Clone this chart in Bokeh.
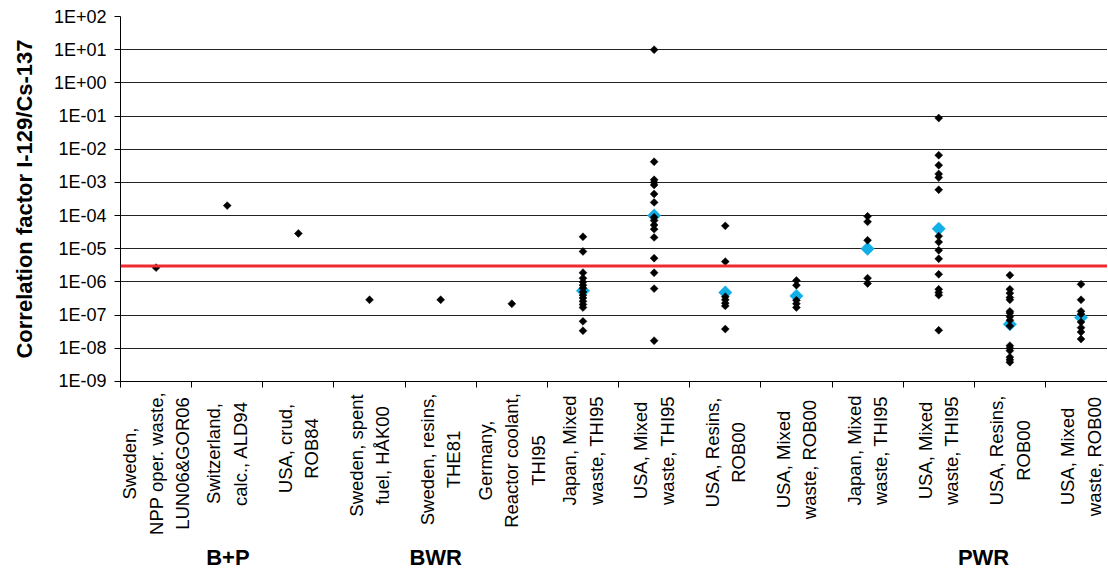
import math
from bokeh.plotting import figure
from bokeh.layouts import column
from bokeh.models import (FixedTicker, CustomJSTickFormatter, Span, Range1d)
from bokeh.core.properties import value
from bokeh.embed import file_html
from bokeh.resources import INLINE

# ---------------- data ----------------
categories = [
    "Sweden,\nNPP oper. waste,\nLUN06&GOR06",
    "Switzerland,\ncalc., ALD94",
    "USA, crud,\nROB84",
    "Sweden, spent\nfuel, HÅK00",
    "Sweden, resins,\nTHE81",
    "Germany,\nReactor coolant,\nTHI95",
    "Japan, Mixed\nwaste, THI95",
    "USA, Mixed\nwaste, THI95",
    "USA, Resins,\nROB00",
    "USA, Mixed\nwaste, ROB00",
    "Japan, Mixed\nwaste, THI95",
    "USA, Mixed\nwaste, THI95",
    "USA, Resins,\nROB00",
    "USA, Mixed\nwaste, ROB00",
]

groups = ["B+P", "BWR", "PWR"]
group_positions = [1.51, 4.43, 12.13]   # category-axis position of each group label

black_values = [
    [2.7e-6],
    [2.0e-4],
    [2.9e-5],
    [2.9e-7],
    [2.9e-7],
    [2.2e-7],
    [2.3e-5, 8.3e-6, 1.9e-6, 1.3e-6, 1.0e-6, 8e-7, 6.5e-7, 5e-7, 4e-7, 3.3e-7,
     2.6e-7, 2.1e-7, 1.7e-7, 6.5e-8, 3.4e-8],
    [10, 4.2e-3, 1.2e-3, 1.0e-3, 8.4e-4, 4.5e-4, 2.5e-4, 8.9e-5, 7.1e-5, 5.2e-5,
     3.9e-5, 2.2e-5, 5.2e-6, 1.9e-6, 6.3e-7, 1.7e-8],
    [4.9e-5, 4.1e-6, 3.6e-7, 2.9e-7, 2.3e-7, 1.9e-7, 3.8e-8],
    [1.1e-6, 8e-7, 2.8e-7, 2.2e-7, 1.7e-7],
    [9.5e-5, 6.5e-5, 1.8e-5, 1.3e-6, 9e-7],
    [8.7e-2, 6.6e-3, 3.3e-3, 1.8e-3, 1.4e-3, 6e-4, 2.4e-5, 1.6e-5, 9e-6, 5e-6,
     1.7e-6, 6e-7, 4.8e-7, 4e-7, 3.5e-8],
    [1.6e-6, 6e-7, 4.6e-7, 3.4e-7, 2.9e-7, 1.3e-7, 1.15e-7, 9e-8, 7e-8, 4.7e-8,
     1.2e-8, 1e-8, 8.5e-9, 5.4e-9, 4.5e-9, 3.8e-9],
    [8.5e-7, 2.9e-7, 1.3e-7, 1.07e-7, 6.2e-8, 4.2e-8, 3.1e-8, 1.9e-8],
]

blue_values = [None, None, None, None, None, None,
               5.4e-7, 1.0e-4, 4.8e-7, 3.8e-7, 1.0e-5, 4.0e-5, 5.3e-8, 8.5e-8]

limit_value = 3e-6
y_ticks = [1e-9, 1e-8, 1e-7, 1e-6, 1e-5, 1e-4, 1e-3, 1e-2, 1e-1, 1e0, 1e1, 1e2]
y_title = "Correlation factor I-129/Cs-137"

# layout helpers (pixel centres of the label blocks inside the label strip)
label_centers = [73, 63, 58, 65, 69, 70, 60, 60, 62, 69, 60, 60, 60, 66]
group_label_y = 167

# ---------------- build sources ----------------
bx, by = [], []
for i, vals in enumerate(black_values):
    for v in vals:
        bx.append(i + 0.5)
        by.append(v)
ux, uy = [], []
for i, v in enumerate(blue_values):
    if v is not None:
        ux.append(i + 0.5)
        uy.append(v)

FONT = "Liberation Sans"
n = len(categories)
W = 1107
LEFT = 120
CAT_PX = 71.15

p = figure(width=W, height=390, output_backend="svg", toolbar_location=None,
           y_axis_type="log",
           x_range=Range1d(0, (W - LEFT) / CAT_PX), y_range=Range1d(1e-9, 1e2),
           min_border_left=LEFT, min_border_right=0, min_border_top=16,
           min_border_bottom=9)
p.outline_line_color = None
p.background_fill_color = "white"
p.border_fill_color = "white"

# grid
p.xgrid.grid_line_color = None
p.ygrid.grid_line_color = "#222222"
p.ygrid.grid_line_width = 1
p.ygrid.ticker = FixedTicker(ticks=y_ticks)

# y axis
ya = p.yaxis[0]
ya.ticker = FixedTicker(ticks=y_ticks)
ya.formatter = CustomJSTickFormatter(code="""
const e = Math.round(Math.log10(tick));
const s = String(Math.abs(e)).padStart(2, '0');
return '1E' + (e < 0 ? '-' : '+') + s;
""")
ya.axis_line_color = "black"
ya.major_tick_line_color = "black"
ya.major_tick_out = 6
ya.major_tick_in = 0
ya.minor_tick_line_color = None
ya.major_label_text_font = FONT
ya.major_label_text_font_size = "18px"
ya.major_label_text_color = "black"
ya.major_label_standoff = 8
ya.axis_label = y_title
ya.axis_label_text_font = FONT
ya.axis_label_text_font_size = "22px"
ya.axis_label_text_font_style = "bold"
ya.axis_label_text_color = "black"
ya.axis_label_standoff = 14

# x axis: category separators
xa = p.xaxis[0]
xa.ticker = FixedTicker(ticks=[i + 0.5 for i in range(n)],
                        minor_ticks=[float(i) for i in range(n + 1)])
xa.formatter = CustomJSTickFormatter(code="return '';")
xa.major_tick_line_color = None
xa.minor_tick_line_color = "black"
xa.minor_tick_out = 6
xa.minor_tick_in = 0
xa.axis_line_color = "black"
xa.major_label_text_font_size = "1px"
xa.major_label_standoff = 0

# limit line
p.add_layout(Span(location=limit_value, dimension="width", line_color="#ee2b2e",
                  line_width=3))

# markers
p.scatter(x=ux, y=uy, marker="square", angle=math.pi / 4, size=9.5,
          fill_color="#12aee6", line_color="#12aee6", line_width=0.5)
p.scatter(x=bx, y=by, marker="square", angle=math.pi / 4, size=5.6,
          fill_color="black", line_color="black", line_width=0.5)

# ---------------- label strip ----------------
q = figure(width=W, height=181, output_backend="svg", toolbar_location=None,
           x_range=p.x_range, y_range=Range1d(181, 0),
           x_axis_location=None, y_axis_location=None,
           min_border_left=LEFT, min_border_right=0, min_border_top=0,
           min_border_bottom=0)
q.outline_line_color = None
q.grid.visible = False
q.background_fill_color = "white"
q.border_fill_color = "white"

q.text(x=[i + 0.5 for i in range(n)], y=label_centers, text=categories,
       angle=math.pi / 2, text_align="center", text_baseline="middle",
       text_font=value(FONT), text_font_size="18.5px", text_color="black",
       text_line_height=1.26)
q.text(x=group_positions, y=[group_label_y] * len(groups), text=groups,
       text_align="center", text_baseline="middle", text_font=value(FONT),
       text_font_size="22px", text_font_style="bold", text_color="black")

layout = column(p, q, spacing=0)
open("out.html", "w").write(file_html(layout, INLINE))
